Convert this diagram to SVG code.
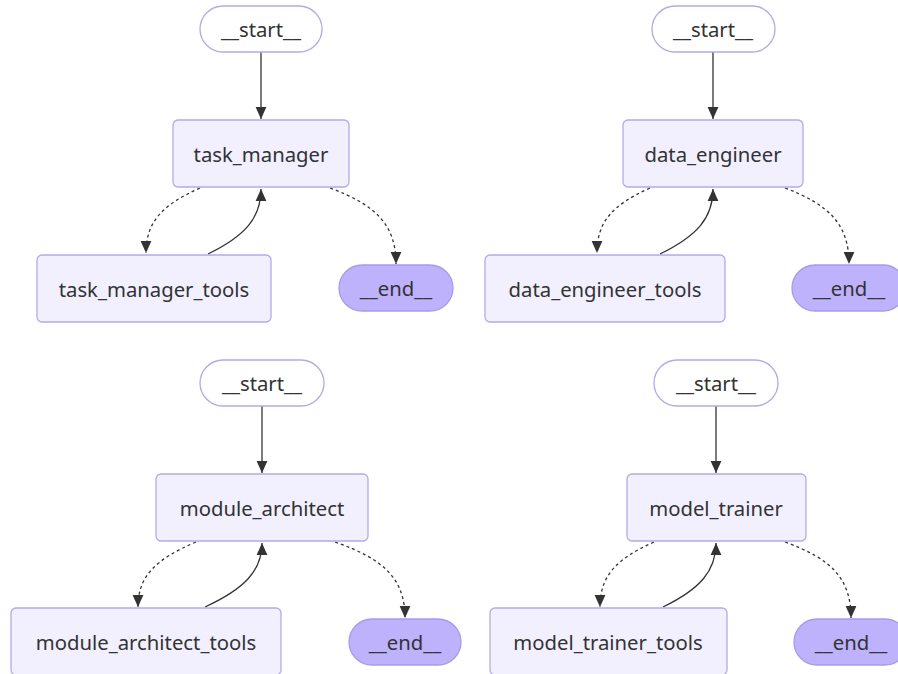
<svg xmlns="http://www.w3.org/2000/svg" width="898" height="674" viewBox="0 0 898 674">
<style>
.bg{fill:#ffffff}
.node rect{fill:#f2f0ff;stroke:#b7a8e6;stroke-width:1.3}
.start rect{fill:#ffffff;stroke:#b7a8e6;stroke-width:1.3}
.end rect{fill:#bdb2fb;stroke:#a99ae8;stroke-width:1.3}
text{font-family:"Noto Sans","Open Sans","DejaVu Sans",sans-serif;font-size:20.3px;fill:#333333;text-anchor:middle;dominant-baseline:central}
.edges path{fill:none;stroke:#333333;stroke-width:1.3}
.edges path.dash{stroke-dasharray:3 3}
</style>
<defs>
<marker id="ah" markerUnits="userSpaceOnUse" markerWidth="12" markerHeight="12" viewBox="0 0 10 10" refX="10" refY="5" orient="auto">
<path d="M0,0.5 L10,5 L0,9.5 Z" fill="#333333"/>
</marker>
</defs>
<rect class="bg" x="0" y="0" width="898" height="674"/>

<g class="edges" id="connectors">
<!-- top-left -->
<path d="M261,52 L261,119" marker-end="url(#ah)"/>
<path class="dash" d="M200,188 C162,205 146,222 146,253" marker-end="url(#ah)"/>
<path d="M208,254 C245,236 261,218 261,189" marker-end="url(#ah)"/>
<path class="dash" d="M330,188 C376,205 396,225 396,264" marker-end="url(#ah)"/>
<!-- top-right -->
<path d="M713,52 L713,119" marker-end="url(#ah)"/>
<path class="dash" d="M650,188 C612,205 597,222 597,253" marker-end="url(#ah)"/>
<path d="M660,254 C697,236 713,218 713,189" marker-end="url(#ah)"/>
<path class="dash" d="M785,188 C830,205 849,225 849,264" marker-end="url(#ah)"/>
<!-- bottom-left -->
<path d="M262,406 L262,473" marker-end="url(#ah)"/>
<path class="dash" d="M196,542 C156,559 138,576 138,607" marker-end="url(#ah)"/>
<path d="M205,607 C244,589 262,571 262,543" marker-end="url(#ah)"/>
<path class="dash" d="M335,542 C384,559 405,579 405,618" marker-end="url(#ah)"/>
<!-- bottom-right -->
<path d="M716,406 L716,473" marker-end="url(#ah)"/>
<path class="dash" d="M654,542 C616,559 600,576 600,607" marker-end="url(#ah)"/>
<path d="M663,607 C700,589 716,571 716,543" marker-end="url(#ah)"/>
<path class="dash" d="M785,542 C832,559 851,579 851,618" marker-end="url(#ah)"/>
</g>

<!-- top-left graph -->
<g id="start1" class="start"><rect x="200" y="6" width="122" height="46" rx="23"/><text x="261" y="29">__start__</text></g>
<g id="task_manager" class="node"><rect x="173" y="120" width="176" height="67" rx="5"/><text x="261" y="153.5">task_manager</text></g>
<g id="task_manager_tools" class="node"><rect x="37" y="255" width="234" height="67" rx="5"/><text x="154" y="288.5">task_manager_tools</text></g>
<g id="end1" class="end"><rect x="339" y="265" width="114" height="46" rx="23"/><text x="396" y="288">__end__</text></g>

<!-- top-right graph -->
<g id="start2" class="start"><rect x="652" y="6" width="123" height="46" rx="23"/><text x="713" y="29">__start__</text></g>
<g id="data_engineer" class="node"><rect x="623" y="120" width="180" height="67" rx="5"/><text x="713" y="153.5">data_engineer</text></g>
<g id="data_engineer_tools" class="node"><rect x="485" y="255" width="240" height="67" rx="5"/><text x="605" y="288.5">data_engineer_tools</text></g>
<g id="end2" class="end"><rect x="792" y="265" width="114" height="46" rx="23"/><text x="849" y="288">__end__</text></g>

<!-- bottom-left graph -->
<g id="start3" class="start"><rect x="200" y="360" width="124" height="46" rx="23"/><text x="262" y="383">__start__</text></g>
<g id="module_architect" class="node"><rect x="156" y="474" width="212" height="67" rx="5"/><text x="262" y="507.5">module_architect</text></g>
<g id="module_architect_tools" class="node"><rect x="11" y="608" width="270" height="67" rx="5"/><text x="146" y="641.5">module_architect_tools</text></g>
<g id="end3" class="end"><rect x="349" y="619" width="112" height="46" rx="23"/><text x="405" y="642">__end__</text></g>

<!-- bottom-right graph -->
<g id="start4" class="start"><rect x="654" y="360" width="124" height="46" rx="23"/><text x="716" y="383">__start__</text></g>
<g id="model_trainer" class="node"><rect x="627" y="474" width="179" height="67" rx="5"/><text x="716" y="507.5">model_trainer</text></g>
<g id="model_trainer_tools" class="node"><rect x="490" y="608" width="237" height="67" rx="5"/><text x="608" y="641.5">model_trainer_tools</text></g>
<g id="end4" class="end"><rect x="794" y="619" width="114" height="46" rx="23"/><text x="851" y="642">__end__</text></g>
</svg>
